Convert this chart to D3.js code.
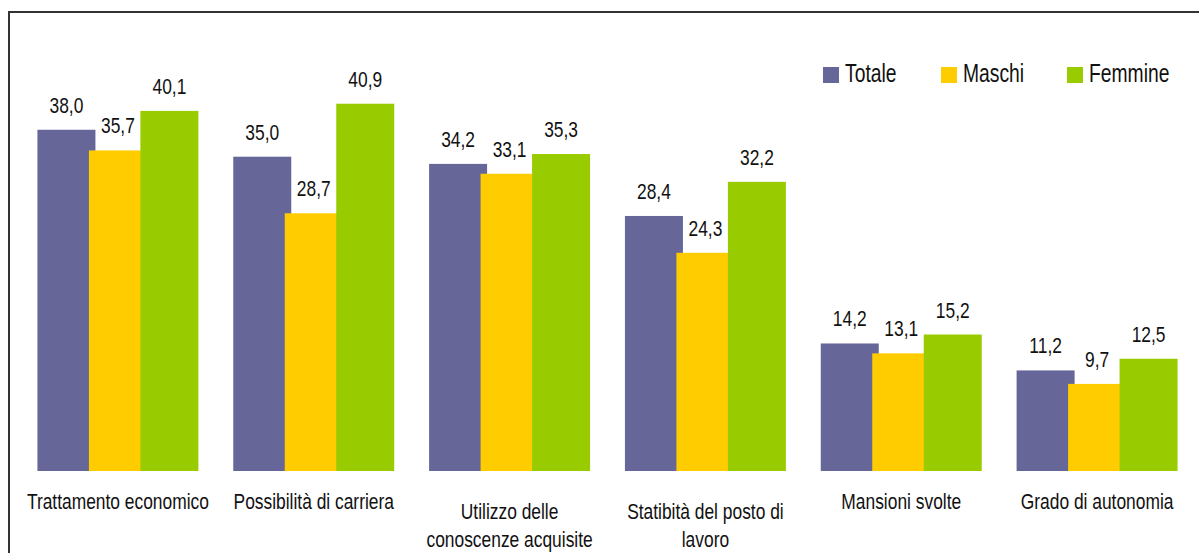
<!DOCTYPE html>
<html>
<head>
<meta charset="utf-8">
<script src="https://cdn.jsdelivr.net/npm/d3@7"></script>
<style>
  body { margin: 0; background: #fff; }
  text { font-family: "Liberation Sans", Arial, sans-serif; fill: #111; }
</style>
</head>
<body>
<script>
var categories = [
    ["Trattamento economico"],
    ["Possibilità di carriera"],
    ["Utilizzo delle", "conoscenze acquisite"],
    ["Statibità del posto di", "lavoro"],
    ["Mansioni svolte"],
    ["Grado di autonomia"]
];
var series = ["Totale", "Maschi", "Femmine"];
var colors = ["#666699", "#FFCC00", "#99CC00"];
var totale = [38.0, 35.0, 34.2, 28.4, 14.2, 11.2];
var maschi = [35.7, 28.7, 33.1, 24.3, 13.1, 9.7];
var femmine = [40.1, 40.9, 35.3, 32.2, 15.2, 12.5];
var values = [totale, maschi, femmine];

var w = 1199, h = 553;
var barW = 58;
var stretch = 1.3; // text in the original is vertically stretched

var svg = d3.select("body").append("svg")
    .attr("width", w)
    .attr("height", h);

// frame (only top and left visible in the picture)
svg.append("rect")
    .attr("x", 9).attr("y", 12)
    .attr("width", 1300).attr("height", 700)
    .attr("fill", "none")
    .attr("stroke", "#333")
    .attr("stroke-width", 2);

var x = d3.scaleBand()
    .domain(d3.range(categories.length))
    .range([20, 1195])
    .paddingInner(0.178)
    .paddingOuter(0.089);

var xSub = d3.scalePoint()
    .domain(series)
    .range([0, x.bandwidth() - barW]);

var y = d3.scaleLinear()
    .domain([0, 45])
    .range([471, 471 - 45 * 8.98]);

function fmt(v) { return d3.format(".1f")(v).replace(".", ","); }

// stretched text helper
function label(g, tx, ty, str, size) {
    return g.append("text")
        .attr("transform", "translate(" + tx + "," + ty + ") scale(1," + stretch + ")")
        .attr("text-anchor", "middle")
        .style("font-size", size + "px")
        .text(str);
}

// bars, one series at a time so Femmine lies on top
series.forEach(function(s, si){
    var g = svg.append("g").attr("class", "series-" + s);
    g.selectAll("rect")
        .data(values[si])
        .enter()
        .append("rect")
        .attr("x", function(d, i){ return x(i) + xSub(s); })
        .attr("y", function(d){ return y(d); })
        .attr("width", barW)
        .attr("height", function(d){ return y(0) - y(d); })
        .attr("fill", colors[si]);
});

// value labels
series.forEach(function(s, si){
    values[si].forEach(function(d, i){
        label(svg, x(i) + xSub(s) + barW / 2, y(d) - 17, fmt(d), 17.4);
    });
});

// category labels
categories.forEach(function(lines, i){
    var cx = x(i) + x.bandwidth() / 2;
    if (lines.length === 1) {
        label(svg, cx, 509, lines[0], 17.4);
    } else {
        lines.forEach(function(l, j){
            label(svg, cx, 519 + j * 28, l, 17.4);
        });
    }
});

// legend
var legendX = [823, 941, 1067];
series.forEach(function(s, si){
    svg.append("rect")
        .attr("x", legendX[si]).attr("y", 67)
        .attr("width", 16).attr("height", 16)
        .attr("fill", colors[si]);
    label(svg, legendX[si] + 22, 82, s, 19.3).attr("text-anchor", "start");
});
</script>
</body>
</html>
